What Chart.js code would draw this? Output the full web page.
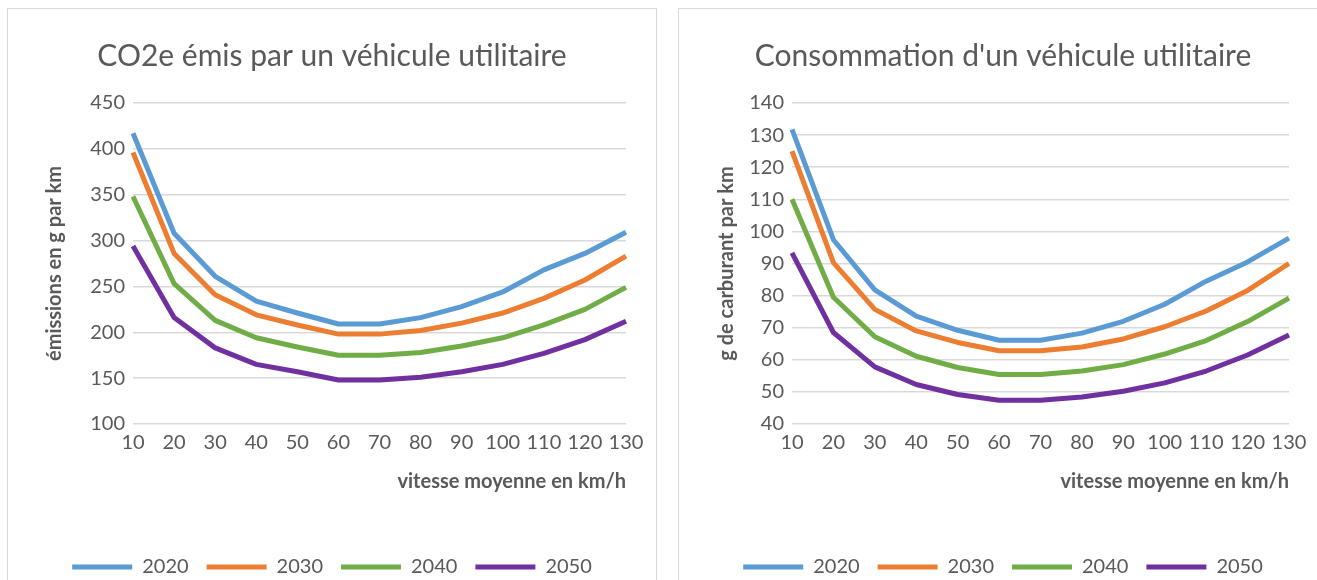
<!DOCTYPE html>
<html>
<head>
<meta charset="utf-8">
<script src="https://cdn.jsdelivr.net/npm/chart.js@4/dist/chart.umd.min.js"></script>
<style>
  html, body { margin: 0; padding: 0; background: #fff; overflow: hidden; }
  .box {
    position: absolute;
    top: 8px;
    width: 650px;
    height: 620px;
    border: 1px solid #d9d9d9;
    box-sizing: border-box;
    overflow: hidden;
  }
  #boxLeft { left: 7px; }
  #boxRight { left: 678px; }
  canvas { display: block; }
</style>
</head>
<body>
<div class="box" id="boxLeft"><canvas id="co2Chart" width="648" height="578"></canvas></div>
<div class="box" id="boxRight"><canvas id="fuelChart" width="648" height="578"></canvas></div>
<script>
const speeds = ["10", "20", "30", "40", "50", "60", "70", "80", "90", "100", "110", "120", "130"];
const years = ["2020", "2030", "2040", "2050"];
const colors = ["#5b9bd5", "#ed7d31", "#70ad47", "#7030a0"];

// CO2e émis (g/km)
const co2_2020 = [417, 308, 261, 234, 221, 209, 209, 216, 228, 244, 268, 286, 309];
const co2_2030 = [396, 286, 241, 219, 208, 198, 198, 202, 210, 221, 237, 257, 283];
const co2_2040 = [348, 253, 213, 194, 184, 175, 175, 178, 185, 194, 208, 225, 249];
const co2_2050 = [294, 216, 183, 165, 157, 148, 148, 151, 157, 165, 177, 192, 212];

// consommation (g de carburant/km)
const fuel_2020 = [131.8, 97.4, 81.8, 73.6, 69.2, 66.1, 66.1, 68.3, 72, 77.3, 84.5, 90.5, 97.9];
const fuel_2030 = [125, 90.3, 75.7, 69, 65.4, 62.8, 62.8, 64, 66.5, 70.3, 75.2, 81.6, 90];
const fuel_2040 = [110, 79.5, 67.2, 61.1, 57.6, 55.4, 55.4, 56.5, 58.5, 61.8, 66, 71.9, 79.2];
const fuel_2050 = [93.3, 68.5, 57.8, 52.3, 49.2, 47.4, 47.4, 48.4, 50.2, 52.8, 56.5, 61.5, 67.7];

const textColor = "#595959";
const gridColor = "#d9d9d9";
Chart.defaults.font.family = "Lato";
Chart.defaults.color = textColor;

function makeChart(id, title, yTitle, series, yMin, yMax, step, pad) {
  const ctx = document.getElementById(id).getContext("2d");
  return new Chart(ctx, {
    type: "line",
    data: {
      labels: speeds,
      datasets: series.map((values, i) => ({
        label: years[i],
        data: values,
        borderColor: colors[i],
        backgroundColor: colors[i],
        borderWidth: 5,
        pointRadius: 0,
        tension: 0,
        fill: false,
        borderJoinStyle: "round",
      })),
    },
    options: {
      responsive: false,
      animation: false,
      layout: { padding: 0 },
      plugins: {
        title: {
          display: true,
          text: title,
          color: textColor,
          font: { size: 30, weight: "normal" },
          padding: { top: 29, bottom: 29 },
        },
        legend: {
          position: "bottom",
          labels: {
            color: textColor,
            font: { size: 20 },
            boxWidth: 60,
            boxHeight: 5,
            padding: 18,
            generateLabels: (chart) =>
              Chart.defaults.plugins.legend.labels
                .generateLabels(chart)
                .map((item) => ({ ...item, lineWidth: 0, fillStyle: colors[item.datasetIndex] })),
          },
        },
        tooltip: { enabled: false },
      },
      scales: {
        x: {
          grid: { display: false, drawTicks: false },
          border: { display: false },
          ticks: { autoSkip: false, maxRotation: 0, padding: 7, font: { size: 20 }, color: textColor },
          title: {
            display: true,
            text: "vitesse moyenne en km/h",
            align: "end",
            color: textColor,
            font: { size: 20, weight: "bold" },
            padding: { top: 8, bottom: 45 },
          },
        },
        y: {
          min: yMin,
          max: yMax,
          afterFit: (scale) => { scale.width = pad.left; },
          grid: { color: gridColor, lineWidth: 1.5, drawTicks: false },
          border: { display: false },
          ticks: { stepSize: step, padding: pad.tick, font: { size: 20 }, color: textColor },
          title: {
            display: true,
            text: yTitle,
            color: textColor,
            font: { size: 20, weight: "bold" },
            padding: { top: pad.title, bottom: 0 },
          },
        },
        // empty right axis, only keeps the plot away from the right edge
        yRight: {
          position: "right",
          afterFit: (scale) => { scale.width = pad.right; },
          grid: { display: false, drawTicks: false },
          border: { display: false },
          ticks: { display: false },
        },
      },
    },
  });
}

makeChart("co2Chart", "CO2e émis par un véhicule utilitaire", "émissions en g par km",
  [co2_2020, co2_2030, co2_2040, co2_2050], 100, 450, 50,
  { left: 125, right: 30, tick: 8, title: 35 });

makeChart("fuelChart", "Consommation d'un véhicule utilitaire", "g de carburant par km",
  [fuel_2020, fuel_2030, fuel_2040, fuel_2050], 40, 140, 10,
  { left: 113, right: 38, tick: 8, title: 36 });
</script>
</body>
</html>
